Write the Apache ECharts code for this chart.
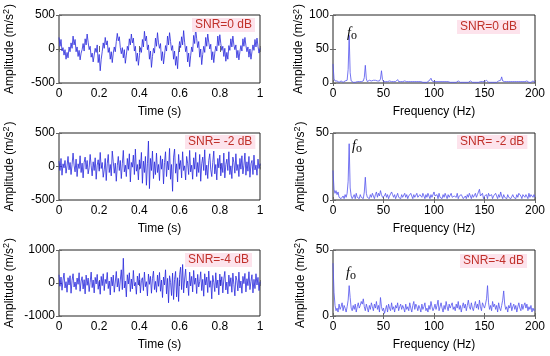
<!DOCTYPE html>
<html><head><meta charset="utf-8">
<script src="https://cdn.jsdelivr.net/npm/echarts@6/dist/echarts.min.js"></script>
<style>html,body{margin:0;padding:0;background:#fff}#c{width:550px;height:356px}</style>
</head><body><div id="c"></div>
<script>
// ---- tick labels ----
var timeTicks = [0, 0.2, 0.4, 0.6, 0.8, 1];
var freqTicks = [0, 50, 100, 150, 200];
var snrLabels = ['SNR=0 dB', 'SNR= -2 dB', 'SNR=-4 dB'];

// ---- time-domain signals (m/s^2), sampled evenly over 0..1 s ----
var sig0dB = [170, 40, 140, -30, 20, -90, -10, -150, -50, -130, 30, -40, 90,
  10, 190, 60, 140, -40, 30, -110, -20, -160, -60, -10, 80, -30,
  150, 60, 220, 100, -10, 40, -120, -60, -190, -90, 10, -50,
  60, -200, -80, -320, -150, -40, 90, 10, 170, 60, 120, -50, 20,
  -150, -40, -200, -60, 30, -40, 110, 230, 120, 180, 20, -70,
  20, -130, -10, -210, -90, 40, -20, 150, 60, 220, 90, 160, -30,
  40, -180, -60, -240, -100, 20, -50, 140, 30, 260, 120, 190,
  -10, 60, -150, -30, -270, -110, 10, -60, 160, 40, 240, 90, 10,
  80, -170, -40, -220, -90, 50, -30, 190, 60, 240, 110, -20,
  50, -150, -30, -240, -110, -290, -20, 110, 20, 180, 60, 270, 100,
  -40, 40, -190, -60, -260, -100, 30, -40, 200, 80, 300, 150,
  20, 110, -120, 0, -230, -80, 40, -50, 170, 40, 220, 100, 0,
  70, -160, -40, -200, -60, 40, -30, 190, 50, 210, 80, -20,
  40, -110, 10, -180, -50, -150, 50, -20, 150, 30, 190, 60, -10,
  60, -130, -20, -160, -40, 50, -30, 150, 40, 170, 50, -40,
  30, -120, 0, -150, -40, 60, -20, 140, 30, 160, 40, -60, 10];
var sigm2dB = [80, -60, 120, -130, 40, -20, 90, -100, 10, 150, -50, 60, -120, 30, 200, 20, -80, 110, -150, 40,
  -30, 160, -90, 50, -170, 60, 140, -40, 90, -110, -20, 180, 10, -140, 70, -60, 130, -190, 20, 100,
  -70, 210, -30, 60, -160, -50, 120, -210, 40, 180, -90, 30, -140, 230, 70, -100, 50, -220, 10, 150,
  -60, 90, -180, 40, 240, -80, 20, -150, 120, -40, 190, -230, 60, -10, 170, -120, 260, -70, 30, -200,
  100, -30, 210, -250, 80, -90, 150, -280, 40, 380, -330, 120, -60, 230, -180, 70, -120, 200, -90, 30,
  -210, 160, -40, 110, -260, 60, 220, -150, 80, -50, 270, -190, 30, -370, 140, 260, -100, 40, -230, 180,
  -30, 90, -170, 220, -60, 10, -200, 150, 50, -120, 240, -80, 20, -190, 130, -40, 210, -150, 60, -90,
  180, -220, 40, 140, -60, 250, -130, 20, -180, 90, 190, -50, -150, 60, 230, -110, 30, -200, 120, -20,
  170, -140, 50, -90, 200, -170, 30, 110, -60, 220, -120, 10, -180, 140, 60, -100, 190, -60, 30, -150,
  120, -40, 160, -110, 20, 200, -130, 70, -70, 150, -160, 40, 90, -120, 170, -50, 20, -130, 110, -30, 40];
var sigm4dB = [250, -100, 180, -220, 90, 300, -150, 40, -280, 160, -60, 220, -310, 80, 280, -120, 30, -200, 150, -40,
  310, -250, 60, 190, -180, 100, -330, 240, -70, 150, -260, 20, 330, -140, 90, -300, 170, -30, 260, -190,
  50, -340, 200, -80, 280, -230, 110, -20, 320, -170, 60, -360, 180, -90, 240, -280, 30, 350, -120, 140,
  -250, 90, 400, -200, 750, -150, 60, -420, 250, -30, 310, -260, 120, -180, 380, -90, 20, -340, 210, -60,
  290, -300, 80, 160, -230, 330, -110, 40, -390, 270, -40, 200, -310, 130, 360, -200, 50, -280, 240, -100,
  320, -250, 90, -440, 180, -60, 400, -330, 140, -600, 220, 20, -380, 300, -500, 110, 350, -420, 160, -560,
  250, 480, -200, 560, -300, 120, 420, -150, 60, -380, 330, -90, 200, -270, 380, -40, 150, -320, 260, -120,
  40, 340, -230, 110, -400, 280, -60, 180, -290, 360, -130, 70, -480, 230, 20, -260, 310, -150, 90, -360,
  270, -80, 190, -300, 120, 350, -210, 30, -330, 240, -100, 160, -280, 300, -50, -390, 210, 80, -240, 330,
  -150, 60, -310, 200, -20, 290, -270, 130, -80, 340, -200, 50, 250, -300, 110, -170, 280, -60, 170, -230, 40];

// ---- amplitude spectra (m/s^2), one value per Hz from 0 to 200 Hz ----
var spec0dB = [28, 6, 3, 2, 3, 2, 1, 2, 3, 2,
  1, 2, 3, 2, 4, 20, 70, 15, 3, 2,
  1, 2, 1, 3, 2, 1, 2, 1, 2, 2,
  3, 8, 26, 6, 2, 3, 4, 2, 3, 5,
  4, 3, 4, 2, 3, 2, 3, 6, 18, 5,
  2, 1, 2, 1, 2, 1, 3, 1, 2, 1,
  2, 1, 2, 3, 5, 2, 1, 2, 1, 2,
  2, 3, 5, 2, 1, 2, 1, 2, 1, 2,
  1, 2, 3, 2, 1, 2, 1, 2, 2, 1,
  2, 1, 2, 1, 2, 3, 5, 7, 3, 1,
  2, 1, 2, 1, 2, 1, 2, 3, 2, 1,
  2, 1, 2, 1, 2, 1, 1, 2, 1, 2,
  1, 2, 1, 2, 3, 2, 1, 2, 1, 2,
  1, 2, 1, 2, 1, 2, 3, 2, 1, 2,
  1, 2, 1, 2, 1, 3, 2, 1, 2, 1,
  2, 3, 4, 2, 1, 2, 1, 2, 1, 2,
  1, 2, 1, 2, 3, 2, 4, 9, 3, 1,
  2, 1, 2, 1, 2, 3, 2, 1, 2, 1,
  2, 1, 2, 3, 2, 1, 2, 1, 2, 1,
  2, 1, 3, 2, 1, 2, 1, 2, 3, 2, 1];
var specm2dB = [22, 8, 5, 7, 4, 6, 2, 3, 1, 2,
  3, 1, 4, 2, 5, 14, 42, 9, 3, 1,
  2, 4, 1, 5, 2, 3, 1, 4, 2, 3,
  1, 6, 17, 5, 2, 3, 1, 4, 2, 5,
  3, 1, 4, 6, 2, 5, 3, 7, 4, 2,
  1, 3, 5, 2, 4, 1, 3, 2, 6, 4,
  2, 4, 1, 3, 5, 2, 3, 1, 4, 2,
  3, 5, 2, 4, 1, 3, 2, 5, 3, 1,
  4, 2, 3, 5, 2, 1, 4, 3, 2, 5,
  3, 1, 4, 2, 5, 3, 1, 4, 2, 3,
  6, 3, 2, 4, 1, 5, 2, 3, 1, 4,
  2, 5, 3, 1, 4, 2, 3, 5, 2, 1,
  3, 4, 2, 5, 1, 3, 2, 4, 3, 1,
  2, 3, 1, 4, 2, 5, 3, 1, 4, 2,
  3, 5, 2, 4, 6, 8, 3, 2, 5, 1,
  3, 2, 4, 1, 5, 3, 2, 4, 1, 3,
  2, 5, 3, 1, 4, 2, 6, 3, 1, 4,
  2, 3, 1, 4, 2, 3, 1, 2, 4, 2,
  3, 1, 4, 2, 5, 6, 3, 1, 4, 5,
  2, 4, 3, 1, 5, 2, 4, 3, 2, 4, 2];
var specm4dB = [40, 18, 8, 4, 6, 3, 9, 5, 7, 10,
  4, 8, 6, 3, 7, 12, 23, 14, 6, 4,
  8, 5, 9, 3, 7, 10, 6, 8, 11, 9,
  13, 7, 4, 9, 6, 3, 8, 5, 10, 7,
  4, 9, 6, 11, 5, 8, 3, 14, 7, 4,
  6, 2, 5, 8, 3, 9, 6, 4, 10, 5,
  7, 3, 8, 6, 10, 4, 7, 9, 5, 8,
  6, 3, 9, 5, 7, 4, 10, 6, 3, 8,
  11, 5, 9, 7, 4, 8, 6, 3, 9, 5,
  7, 10, 4, 6, 3, 8, 5, 11, 7, 4,
  6, 9, 5, 8, 12, 4, 7, 10, 6, 3,
  8, 5, 11, 7, 4, 9, 6, 8, 10, 5,
  7, 4, 9, 6, 11, 5, 8, 3, 7, 10,
  6, 9, 4, 8, 12, 7, 5, 10, 6, 4,
  8, 11, 6, 9, 5, 12, 7, 4, 10, 8,
  6, 9, 13, 23, 10, 5, 8, 4, 11, 7,
  9, 5, 8, 3, 10, 6, 4, 8, 12, 19,
  9, 5, 7, 3, 8, 6, 10, 4, 7, 9,
  5, 8, 3, 7, 10, 6, 4, 9, 5, 8,
  10, 6, 9, 4, 7, 5, 8, 3, 6, 4, 5];

var timeSignals = [sig0dB, sigm2dB, sigm4dB];
var spectra = [spec0dB, specm2dB, specm4dB];
var timeYRange = [[-500, 500, 500], [-500, 500, 500], [-1000, 1000, 1000]];
var specYRange = [[0, 100, 50], [0, 50, 50], [0, 50, 50]];

// ---- layout ----
var FONT = '"Liberation Sans", Arial, sans-serif';
var colLeft = [59, 333], colWidth = [201, 202];
var rowTop = [15, 133, 250], rowHeight = [68, 67, 66];

var grids = [], xAxes = [], yAxes = [], series = [], graphics = [];
function toPairs(arr, xmax) {
  var n = arr.length, out = [];
  for (var i = 0; i < n; i++) out.push([i * xmax / (n - 1), arr[i]]);
  return out;
}
var gi = 0;
for (var r = 0; r < 3; r++) {
  for (var c = 0; c < 2; c++) {
    grids.push({left: colLeft[c], top: rowTop[r], width: colWidth[c], height: rowHeight[r],
      show: true, borderColor: '#222', borderWidth: 1, backgroundColor: '#fff'});
    var isTime = c === 0;
    var xmax = isTime ? 1 : 200, xint = isTime ? 0.2 : 50;
    var yr = isTime ? timeYRange[r] : specYRange[r];
    var tick = {show: true, inside: true, length: 3, lineStyle: {color: '#666'}};
    xAxes.push({gridIndex: gi, type: 'value', min: 0, max: xmax, interval: xint, position: 'bottom',
      axisLine: {show: false}, axisTick: tick, splitLine: {show: false},
      axisLabel: {color: '#000', fontSize: 12, fontFamily: FONT, margin: 5,
        formatter: function (v) { return String(+(+v).toFixed(1)); }},
      name: isTime ? 'Time (s)' : 'Frequency (Hz)', nameLocation: 'middle', nameGap: 23,
      nameTextStyle: {color: '#000', fontSize: 12, fontFamily: FONT}});
    xAxes.push({gridIndex: gi, type: 'value', min: 0, max: xmax, interval: xint, position: 'top',
      axisLine: {show: false}, axisTick: tick, axisLabel: {show: false}, splitLine: {show: false}});
    yAxes.push({gridIndex: gi, type: 'value', min: yr[0], max: yr[1], interval: yr[2], position: 'left',
      axisLine: {show: false}, axisTick: tick, splitLine: {show: false},
      axisLabel: {color: '#000', fontSize: 12, fontFamily: FONT, margin: 4,
        formatter: function (v) { return String(v); }},
      name: 'Amplitude (m/s{sup|2})', nameLocation: 'middle', nameRotate: 90,
      nameGap: isTime ? 42 : 25,
      nameTextStyle: {color: '#000', fontSize: 12, fontFamily: FONT,
        rich: {sup: {fontSize: 9, fontFamily: FONT, color: '#000', verticalAlign: 'top', padding: [0, 1, 6, 0]}}}});
    yAxes.push({gridIndex: gi, type: 'value', min: yr[0], max: yr[1], interval: yr[2], position: 'right',
      axisLine: {show: false}, axisTick: tick, axisLabel: {show: false}, splitLine: {show: false}});
    var data = isTime ? toPairs(timeSignals[r], 1) : toPairs(spectra[r], 200);
    series.push({type: 'line', xAxisIndex: gi * 2, yAxisIndex: gi * 2, data: data,
      showSymbol: false, symbol: 'none', animation: false, silent: true,
      lineStyle: isTime ? {color: '#2828dc', width: 1, opacity: 0.8}
                        : {color: '#5555ee', width: 0.9, opacity: 0.9}});
    gi++;
  }
}

// SNR labels
var snrPos = [[[192, 18], [457, 20]], [[185, 135], [457, 135]], [[185, 253], [460, 254]]];
for (var r2 = 0; r2 < 3; r2++) {
  for (var c2 = 0; c2 < 2; c2++) {
    graphics.push({type: 'text', left: snrPos[r2][c2][0], top: snrPos[r2][c2][1], z: 100,
      style: {text: snrLabels[r2], fill: '#c0302a', font: '12px ' + FONT,
        backgroundColor: '#fde3ec', padding: [1, 3]}});
  }
}
// f0 labels
var f0Pos = [[347, 26], [352, 139], [346, 266]];
for (var k = 0; k < 3; k++) {
  graphics.push({type: 'text', left: f0Pos[k][0], top: f0Pos[k][1], z: 100,
    style: {text: '{f|f}{o|o}', rich: {
      f: {fontFamily: '"Liberation Serif", "Times New Roman", serif', fontStyle: 'italic', fontSize: 14, fill: '#000'},
      o: {fontFamily: '"Liberation Serif", "Times New Roman", serif', fontSize: 12, fill: '#000', padding: [6, 0, 0, 0]}}}});
}

var chart = echarts.init(document.getElementById('c'), null, {renderer: 'canvas'});
chart.setOption({animation: false, grid: grids, xAxis: xAxes, yAxis: yAxes, series: series, graphic: graphics});
</script></body></html>
